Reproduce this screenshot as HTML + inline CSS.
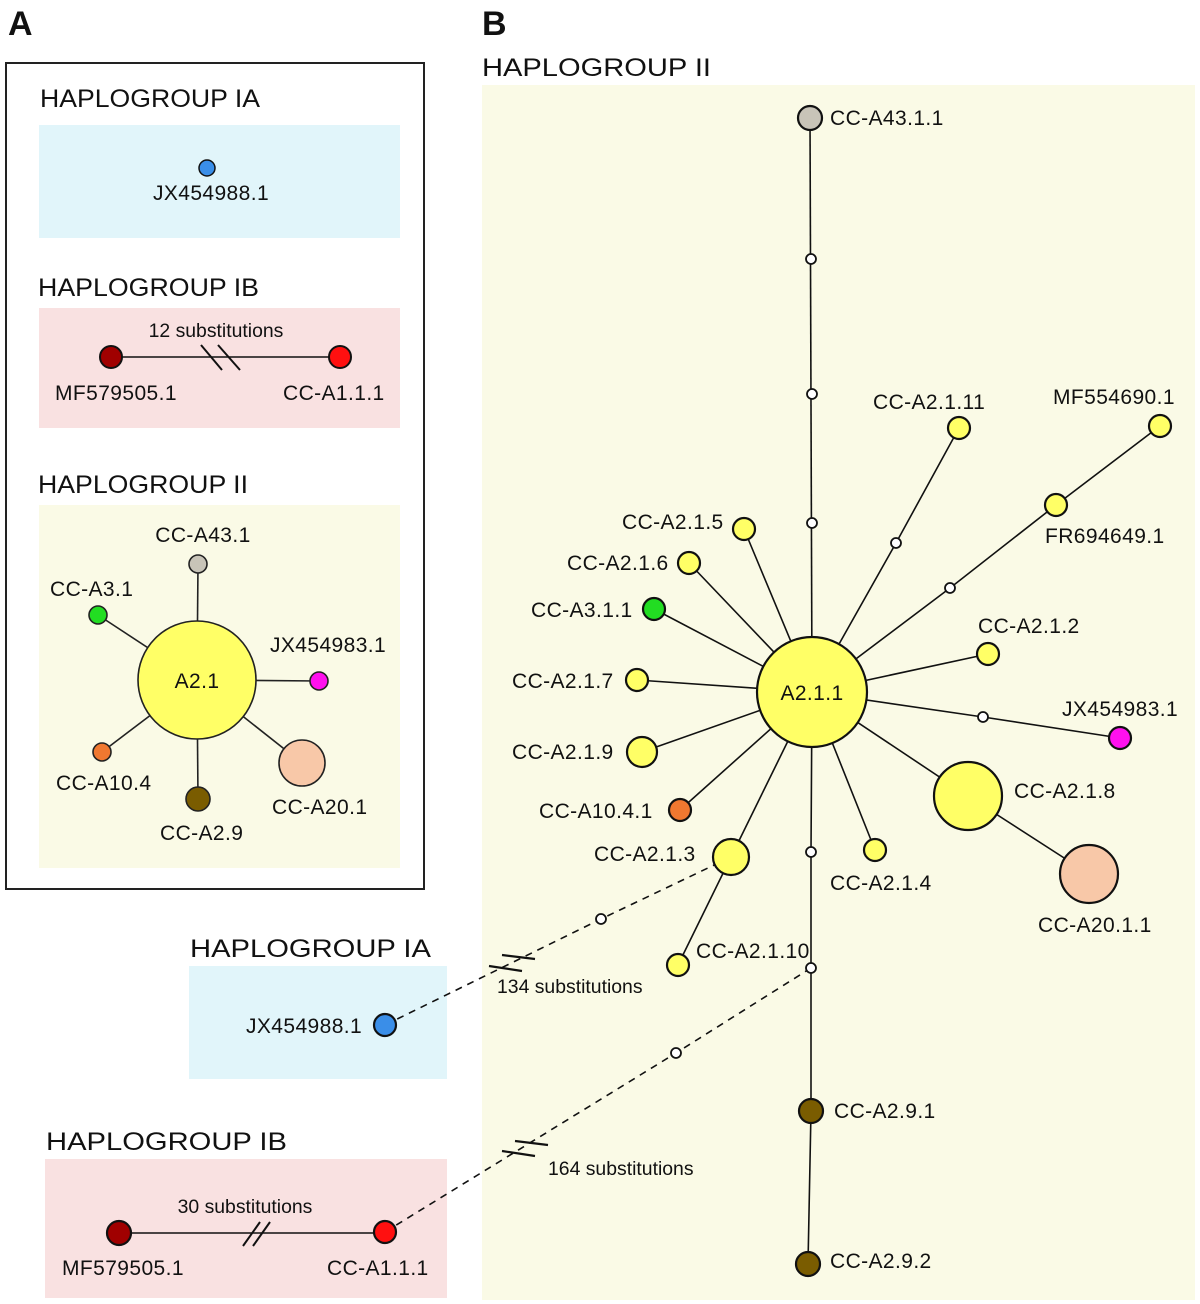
<!DOCTYPE html>
<html><head><meta charset="utf-8"><style>
html,body{margin:0;padding:0;background:#fff}
svg{display:block}
text{font-family:"Liberation Sans",Arial,sans-serif;fill:#111}
</style></head><body>
<svg width="1200" height="1304" viewBox="0 0 1200 1304" xmlns="http://www.w3.org/2000/svg">
<text x="8" y="35" font-size="34" font-weight="bold">A</text>
<text x="482" y="35" font-size="34" font-weight="bold">B</text>
<rect x="6" y="63" width="418" height="826" fill="#fff" stroke="#222" stroke-width="2"/>
<text x="40" y="107" font-size="25" textLength="220" lengthAdjust="spacingAndGlyphs">HAPLOGROUP IA</text>
<rect x="39" y="125" width="361" height="113" fill="#e1f5fa"/>
<circle cx="207" cy="168" r="8" fill="#3a8ee8" stroke="#111" stroke-width="1.5"/>
<g font-size="21" letter-spacing="0.4">
<text x="211" y="200" text-anchor="middle">JX454988.1</text>
</g>

<text x="38" y="296" font-size="25" textLength="221" lengthAdjust="spacingAndGlyphs">HAPLOGROUP IB</text>
<rect x="39" y="308" width="361" height="120" fill="#f9e1e1"/>
<text x="216" y="337" font-size="19.4" text-anchor="middle">12 substitutions</text>
<line x1="111" y1="357" x2="340" y2="357" stroke="#111" stroke-width="1.6"/>
<line x1="201" y1="345" x2="222" y2="370" stroke="#111" stroke-width="2"/>
<line x1="218" y1="345" x2="240" y2="370" stroke="#111" stroke-width="2"/>
<circle cx="111" cy="357" r="11" fill="#a00000" stroke="#111" stroke-width="2"/>
<circle cx="340" cy="357" r="11" fill="#ff1010" stroke="#111" stroke-width="2"/>
<g font-size="21" letter-spacing="0.4">
<text x="55" y="400">MF579505.1</text>
<text x="283" y="400">CC-A1.1.1</text>
</g>

<text x="38" y="493" font-size="25" textLength="210" lengthAdjust="spacingAndGlyphs">HAPLOGROUP II</text>
<rect x="39" y="505" width="361" height="363" fill="#fafae6"/>
<g stroke="#222" stroke-width="1.6">
<line x1="197" y1="680" x2="198" y2="564"/>
<line x1="197" y1="680" x2="98" y2="615"/>
<line x1="197" y1="680" x2="319" y2="681"/>
<line x1="197" y1="680" x2="102" y2="752"/>
<line x1="197" y1="680" x2="198" y2="799"/>
<line x1="197" y1="680" x2="302" y2="763"/>
</g>
<g stroke="#222" stroke-width="1.6">
<circle cx="197" cy="680" r="59" fill="#ffff66"/>
<circle cx="198" cy="564" r="9" fill="#c8c4b8"/>
<circle cx="98" cy="615" r="9" fill="#22dd22"/>
<circle cx="319" cy="681" r="9" fill="#ff10ee"/>
<circle cx="102" cy="752" r="9" fill="#f07830"/>
<circle cx="198" cy="799" r="12" fill="#7a5c00"/>
<circle cx="302" cy="763" r="23" fill="#f8c8a8"/>
</g>
<g font-size="21" letter-spacing="0.4">
<text x="197" y="688" text-anchor="middle">A2.1</text>
<text x="203" y="542" text-anchor="middle">CC-A43.1</text>
<text x="50" y="596">CC-A3.1</text>
<text x="270" y="652">JX454983.1</text>
<text x="56" y="790">CC-A10.4</text>
<text x="160" y="840">CC-A2.9</text>
<text x="272" y="814">CC-A20.1</text>
</g>

<text x="482" y="76" font-size="25" textLength="229" lengthAdjust="spacingAndGlyphs">HAPLOGROUP II</text>
<rect x="482" y="85" width="713" height="1215" fill="#fafae6"/>

<text x="190" y="957" font-size="25" textLength="241" lengthAdjust="spacingAndGlyphs">HAPLOGROUP IA</text>
<rect x="189" y="966" width="258" height="113" fill="#e1f5fa"/>

<text x="46" y="1150" font-size="25" textLength="241" lengthAdjust="spacingAndGlyphs">HAPLOGROUP IB</text>
<rect x="45" y="1159" width="402" height="139" fill="#f9e1e1"/>
<text x="245" y="1213" font-size="19.4" text-anchor="middle">30 substitutions</text>
<line x1="119" y1="1233" x2="385" y2="1233" stroke="#111" stroke-width="1.6"/>
<line x1="243" y1="1246" x2="260" y2="1222" stroke="#111" stroke-width="2"/>
<line x1="253" y1="1246" x2="270" y2="1222" stroke="#111" stroke-width="2"/>

<g stroke="#111" stroke-width="1.6" fill="none">
<line x1="810" y1="118" x2="812" y2="692"/>
<polyline points="812,692 896,543 959,428"/>
<polyline points="812,692 950,588 1056,505 1160,426"/>
<line x1="812" y1="692" x2="744" y2="529"/>
<line x1="812" y1="692" x2="689" y2="563"/>
<line x1="812" y1="692" x2="654" y2="609"/>
<line x1="812" y1="692" x2="988" y2="654"/>
<line x1="812" y1="692" x2="637" y2="680"/>
<polyline points="812,692 983,717 1120,738"/>
<line x1="812" y1="692" x2="642" y2="752"/>
<line x1="812" y1="692" x2="680" y2="810"/>
<polyline points="812,692 968,796 1089,874"/>
<line x1="812" y1="692" x2="731" y2="857"/>
<line x1="812" y1="692" x2="875" y2="850"/>
<line x1="731" y1="857" x2="678" y2="965"/>
<polyline points="812,692 811,852 811,968 811,1111 808,1264"/>
</g>
<g stroke="#111" stroke-width="1.6" stroke-dasharray="7,6" fill="none">
<polyline points="731,857 601,919 385,1025"/>
<polyline points="811,968 676,1053 385,1232"/>
</g>
<g stroke="#111" stroke-width="2.2">
<line x1="502" y1="955" x2="535" y2="959"/>
<line x1="489" y1="966" x2="522" y2="971"/>
<line x1="515" y1="1141" x2="548" y2="1145"/>
<line x1="502" y1="1151" x2="535" y2="1156"/>
</g>
<g stroke="#111" stroke-width="2.2">
<circle cx="812" cy="692" r="55" fill="#ffff66"/>
<circle cx="810" cy="118" r="12" fill="#c8c4b8"/>
<circle cx="959" cy="428" r="11" fill="#ffff66"/>
<circle cx="1160" cy="426" r="11" fill="#ffff66"/>
<circle cx="1056" cy="505" r="11" fill="#ffff66"/>
<circle cx="744" cy="529" r="11" fill="#ffff66"/>
<circle cx="689" cy="563" r="11" fill="#ffff66"/>
<circle cx="654" cy="609" r="11" fill="#22dd22"/>
<circle cx="988" cy="654" r="11" fill="#ffff66"/>
<circle cx="637" cy="680" r="11" fill="#ffff66"/>
<circle cx="1120" cy="738" r="11" fill="#ff10ee"/>
<circle cx="642" cy="752" r="15" fill="#ffff66"/>
<circle cx="680" cy="810" r="11" fill="#f07830"/>
<circle cx="968" cy="796" r="34" fill="#ffff66"/>
<circle cx="1089" cy="874" r="29" fill="#f8c8a8"/>
<circle cx="731" cy="857" r="18" fill="#ffff66"/>
<circle cx="875" cy="850" r="11" fill="#ffff66"/>
<circle cx="678" cy="965" r="11" fill="#ffff66"/>
<circle cx="811" cy="1111" r="12" fill="#7a5c00"/>
<circle cx="808" cy="1264" r="12" fill="#7a5c00"/>
<circle cx="385" cy="1025" r="11" fill="#3a8ee8"/>
<circle cx="385" cy="1232" r="11" fill="#ff1010"/>
<circle cx="119" cy="1233" r="12" fill="#a00000"/>
</g>
<g stroke="#111" stroke-width="1.8" fill="#fff">
<circle cx="811" cy="259" r="5"/>
<circle cx="812" cy="394" r="5"/>
<circle cx="812" cy="523" r="5"/>
<circle cx="896" cy="543" r="5"/>
<circle cx="950" cy="588" r="5"/>
<circle cx="983" cy="717" r="5"/>
<circle cx="811" cy="852" r="5"/>
<circle cx="811" cy="968" r="5"/>
<circle cx="601" cy="919" r="5"/>
<circle cx="676" cy="1053" r="5"/>
</g>
<g font-size="21" letter-spacing="0.4">
<text x="246" y="1033">JX454988.1</text>
<text x="62" y="1275">MF579505.1</text>
<text x="327" y="1275">CC-A1.1.1</text>
<text x="812" y="700" text-anchor="middle">A2.1.1</text>
<text x="830" y="125">CC-A43.1.1</text>
<text x="873" y="409">CC-A2.1.11</text>
<text x="1053" y="404">MF554690.1</text>
<text x="1045" y="543">FR694649.1</text>
<text x="622" y="529">CC-A2.1.5</text>
<text x="567" y="570">CC-A2.1.6</text>
<text x="531" y="617">CC-A3.1.1</text>
<text x="978" y="633">CC-A2.1.2</text>
<text x="512" y="688">CC-A2.1.7</text>
<text x="1062" y="716">JX454983.1</text>
<text x="512" y="759">CC-A2.1.9</text>
<text x="539" y="818">CC-A10.4.1</text>
<text x="1014" y="798">CC-A2.1.8</text>
<text x="1038" y="932">CC-A20.1.1</text>
<text x="594" y="861">CC-A2.1.3</text>
<text x="830" y="890">CC-A2.1.4</text>
<text x="696" y="958">CC-A2.1.10</text>
<text x="834" y="1118">CC-A2.9.1</text>
<text x="830" y="1268">CC-A2.9.2</text>
</g>
<text x="497" y="993" font-size="19.4">134 substitutions</text>
<text x="548" y="1175" font-size="19.4">164 substitutions</text>
</svg>
</body></html>
